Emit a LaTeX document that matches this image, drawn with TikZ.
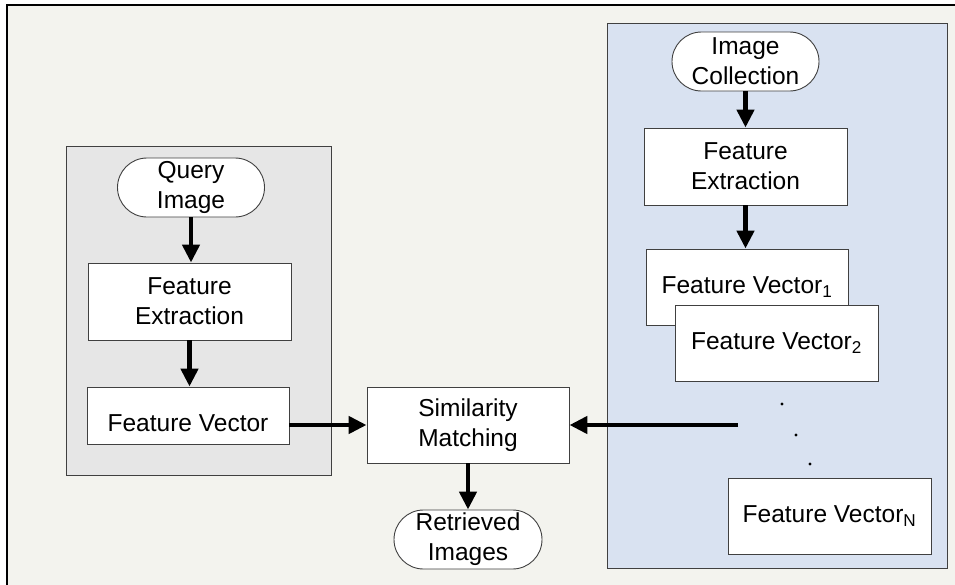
\documentclass[tikz,border=0pt]{standalone}
\usepackage{fontspec}
\setmainfont{Liberation Sans}
\usetikzlibrary{shapes.misc,arrows.meta}
\definecolor{pagebg}{HTML}{F3F3EE}
\definecolor{panelgray}{HTML}{E6E6E6}
\definecolor{panelblue}{HTML}{D9E2F1}
\definecolor{edge}{HTML}{404040}

\tikzset{
  lbl/.style={font=\fontsize{24.5}{30}\selectfont},
  box/.style={lbl, draw=edge, fill=white, line width=0.9pt, align=center, inner sep=0pt},
  stepbox/.style={box, minimum width=203pt, minimum height=77pt},
  terminal/.style={box, rounded rectangle, minimum width=147pt, minimum height=59pt},
  arr/.style={line width=4.5pt, -{Triangle[width=17pt,length=18pt]}},
  panel/.style={draw=edge, line width=0.9pt},
}

\begin{document}
\begin{tikzpicture}[x=1pt,y=-1pt]
\clip (0,0) rectangle (955,584);
\fill[white] (0,0) rectangle (955,584);
% outer frame
\draw[fill=pagebg, line width=2pt] (7,5) rectangle (975,600);
% the two panels
\draw[panel, fill=panelgray] (66,146) rectangle (331,475);
\draw[panel, fill=panelblue] (607,23) rectangle (947,568);

% query side
\node[terminal] (qi) at (191,187.5) {Query\\Image};
\node[stepbox] (fel) at (189.5,301.5) {Feature\\Extraction};
\node[box, minimum width=202pt, minimum height=57pt,
      label={[lbl, yshift=-8pt]center:Feature Vector}] (fvl) at (188,415.5) {};

% matching
\node[stepbox, minimum width=202pt, minimum height=76pt] (sm) at (468,425) {Similarity\\Matching};
\node[terminal, minimum width=148pt] (ri) at (468,539.5) {Retrieved\\Images};

% collection side
\node[terminal] (ic) at (745.5,61.5) {Image\\Collection};
\node[stepbox] (fer) at (745.5,166.5) {Feature\\Extraction};
\node[stepbox, minimum width=202pt, minimum height=76pt] (fv1) at (747,287) {Feature Vector\textsubscript{1}};
\node[stepbox, minimum height=76pt] (fv2) at (776.5,343) {Feature Vector\textsubscript{2}};
\node[stepbox, minimum height=76pt] (fvn) at (829.5,516) {Feature Vector\textsubscript{N}};
\fill (782,404) circle (1.7pt);
\fill (796,435) circle (1.7pt);
\fill (810,464) circle (1.7pt);
\coordinate (feed) at (738,425);

% connectors
\draw[arr] (qi.south) -- (qi.south |- fel.north);
\draw[arr] (fel.south) -- (fel.south |- fvl.north);
\draw[arr] (fvl.east |- sm.west) -- (sm.west);
\draw[arr] (feed) -- (sm.east);
\draw[arr] (sm.south) -- (ri.north);
\draw[arr] (ic.south) -- (ic.south |- fer.north);
\draw[arr] (fer.south) -- (fer.south |- fv1.north);
\end{tikzpicture}
\end{document}
